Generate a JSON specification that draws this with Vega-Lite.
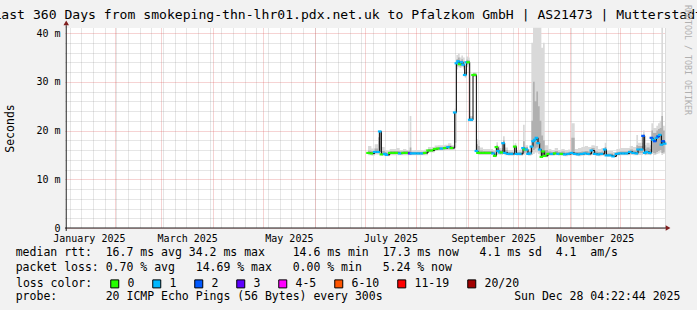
{
  "$schema": "https://vega.github.io/schema/vega-lite/v6.json",
  "width": 600,
  "height": 200,
  "autosize": "none",
  "padding": {"left": 65, "top": 28, "right": 32, "bottom": 82},
  "background": "#f2f2f2",
  "config": {"view": {"stroke": null, "fill": "#ffffff"}, "font": "DejaVu Sans Mono"},
  "datasets": {
    "rtt": [
      {"t": "2025-07-03T00:00", "m": 15.4, "loss": "0", "s0": 14.9, "s1": 16.8, "i0": 15.2, "i1": 15.9},
      {"t": "2025-07-05T00:00", "m": 15.3, "loss": "0", "s0": 14.8, "s1": 16.3, "i0": 15.1, "i1": 15.8},
      {"t": "2025-07-07T00:00", "m": 15.6, "loss": "1", "s0": 15.1, "s1": 17.2, "i0": 15.4, "i1": 16.3},
      {"t": "2025-07-09T00:00", "m": 15.6, "loss": "1", "s0": 15.1, "s1": 19.5, "i0": 15.4, "i1": 18.6},
      {"t": "2025-07-10T00:00", "m": 19.8, "loss": "1", "s0": 15.3, "s1": 20.0, "i0": 15.6, "i1": 19.8},
      {"t": "2025-07-11T00:00", "m": 15.1, "loss": "0", "s0": 14.8, "s1": 16.6, "i0": 15.0, "i1": 15.8},
      {"t": "2025-07-13T00:00", "m": 15.2, "loss": "1", "s0": 14.8, "s1": 16.0, "i0": 15.0, "i1": 15.6},
      {"t": "2025-07-14T00:00", "m": 15.0, "loss": "1", "s0": 14.7, "s1": 15.8, "i0": 14.9, "i1": 15.4},
      {"t": "2025-07-16T00:00", "m": 15.4, "loss": "0", "s0": 14.9, "s1": 16.2, "i0": 15.2, "i1": 15.8},
      {"t": "2025-07-18T00:00", "m": 15.4, "loss": "0", "s0": 14.9, "s1": 16.2, "i0": 15.2, "i1": 15.8},
      {"t": "2025-07-20T00:00", "m": 15.4, "loss": "0", "s0": 14.9, "s1": 16.4, "i0": 15.2, "i1": 15.8},
      {"t": "2025-07-22T00:00", "m": 15.3, "loss": "1", "s0": 14.9, "s1": 16.0, "i0": 15.1, "i1": 15.7},
      {"t": "2025-07-24T00:00", "m": 15.4, "loss": "0", "s0": 14.9, "s1": 16.2, "i0": 15.2, "i1": 15.8},
      {"t": "2025-07-26T00:00", "m": 15.4, "loss": "0", "s0": 14.9, "s1": 16.0, "i0": 15.2, "i1": 15.8},
      {"t": "2025-07-28T00:00", "m": 15.3, "loss": "3", "s0": 14.9, "s1": 23.0, "i0": 15.1, "i1": 16.5},
      {"t": "2025-07-29T00:00", "m": 15.3, "loss": "1", "s0": 14.9, "s1": 15.9, "i0": 15.1, "i1": 15.6},
      {"t": "2025-07-31T00:00", "m": 15.3, "loss": "1", "s0": 14.9, "s1": 16.0, "i0": 15.1, "i1": 15.6},
      {"t": "2025-08-02T00:00", "m": 15.3, "loss": "1", "s0": 14.9, "s1": 16.0, "i0": 15.1, "i1": 15.6},
      {"t": "2025-08-04T00:00", "m": 15.3, "loss": "1", "s0": 14.9, "s1": 15.9, "i0": 15.1, "i1": 15.6},
      {"t": "2025-08-06T00:00", "m": 15.4, "loss": "0", "s0": 14.9, "s1": 16.1, "i0": 15.2, "i1": 15.7},
      {"t": "2025-08-08T00:00", "m": 15.9, "loss": "0", "s0": 15.5, "s1": 16.6, "i0": 15.7, "i1": 16.2},
      {"t": "2025-08-10T00:00", "m": 15.9, "loss": "0", "s0": 15.5, "s1": 16.6, "i0": 15.7, "i1": 16.2},
      {"t": "2025-08-12T00:00", "m": 16.2, "loss": "0", "s0": 15.8, "s1": 16.9, "i0": 16.0, "i1": 16.5},
      {"t": "2025-08-14T00:00", "m": 16.3, "loss": "0", "s0": 15.9, "s1": 17.0, "i0": 16.1, "i1": 16.6},
      {"t": "2025-08-16T00:00", "m": 16.3, "loss": "1", "s0": 15.9, "s1": 17.0, "i0": 16.1, "i1": 16.6},
      {"t": "2025-08-18T00:00", "m": 16.4, "loss": "0", "s0": 16.0, "s1": 17.1, "i0": 16.2, "i1": 16.7},
      {"t": "2025-08-20T00:00", "m": 16.6, "loss": "1", "s0": 16.0, "s1": 17.4, "i0": 16.2, "i1": 16.9},
      {"t": "2025-08-22T00:00", "m": 16.4, "loss": "0", "s0": 16.0, "s1": 17.0, "i0": 16.2, "i1": 16.7},
      {"t": "2025-08-24T00:00", "m": 23.7, "loss": "1", "s0": 16.5, "s1": 24.5, "i0": 17.5, "i1": 24.0},
      {"t": "2025-08-25T00:00", "m": 33.8, "loss": "1", "s0": 32.5, "s1": 35.5, "i0": 33.2, "i1": 34.6},
      {"t": "2025-08-26T00:00", "m": 34.2, "loss": "1", "s0": 33.0, "s1": 35.8, "i0": 33.6, "i1": 35.0},
      {"t": "2025-08-27T00:00", "m": 33.6, "loss": "0", "s0": 32.8, "s1": 35.0, "i0": 33.2, "i1": 34.3},
      {"t": "2025-08-28T00:00", "m": 34.0, "loss": "1", "s0": 33.0, "s1": 35.4, "i0": 33.5, "i1": 34.6},
      {"t": "2025-08-29T00:00", "m": 33.5, "loss": "1", "s0": 32.5, "s1": 35.0, "i0": 33.0, "i1": 34.2},
      {"t": "2025-08-30T00:00", "m": 31.4, "loss": "1", "s0": 30.8, "s1": 32.5, "i0": 31.1, "i1": 32.0},
      {"t": "2025-08-31T00:00", "m": 34.0, "loss": "1", "s0": 33.0, "s1": 35.2, "i0": 33.5, "i1": 34.5},
      {"t": "2025-09-01T00:00", "m": 34.0, "loss": "0", "s0": 33.2, "s1": 35.0, "i0": 33.6, "i1": 34.4},
      {"t": "2025-09-02T00:00", "m": 22.2, "loss": "1", "s0": 21.8, "s1": 23.0, "i0": 22.0, "i1": 22.6},
      {"t": "2025-09-03T00:00", "m": 22.2, "loss": "1", "s0": 21.8, "s1": 23.0, "i0": 22.0, "i1": 22.6},
      {"t": "2025-09-04T00:00", "m": 31.4, "loss": "0", "s0": 31.0, "s1": 32.0, "i0": 31.2, "i1": 31.7},
      {"t": "2025-09-05T00:00", "m": 31.4, "loss": "0", "s0": 31.0, "s1": 32.0, "i0": 31.2, "i1": 31.7},
      {"t": "2025-09-06T00:00", "m": 15.8, "loss": "1", "s0": 15.2, "s1": 18.2, "i0": 15.4, "i1": 17.2},
      {"t": "2025-09-07T00:00", "m": 15.4, "loss": "0", "s0": 15.0, "s1": 18.0, "i0": 15.2, "i1": 16.8},
      {"t": "2025-09-08T00:00", "m": 15.4, "loss": "0", "s0": 15.0, "s1": 16.5, "i0": 15.2, "i1": 15.9},
      {"t": "2025-09-10T00:00", "m": 15.4, "loss": "0", "s0": 15.0, "s1": 16.2, "i0": 15.2, "i1": 15.8},
      {"t": "2025-09-12T00:00", "m": 15.4, "loss": "0", "s0": 15.0, "s1": 16.2, "i0": 15.2, "i1": 15.8},
      {"t": "2025-09-14T00:00", "m": 15.4, "loss": "0", "s0": 15.0, "s1": 16.2, "i0": 15.2, "i1": 15.8},
      {"t": "2025-09-16T00:00", "m": 15.3, "loss": "1", "s0": 14.9, "s1": 16.0, "i0": 15.1, "i1": 15.7},
      {"t": "2025-09-17T00:00", "m": 14.8, "loss": "0", "s0": 14.5, "s1": 15.8, "i0": 14.6, "i1": 15.3},
      {"t": "2025-09-18T00:00", "m": 16.6, "loss": "0", "s0": 15.0, "s1": 17.6, "i0": 15.5, "i1": 17.0},
      {"t": "2025-09-19T00:00", "m": 15.8, "loss": "1", "s0": 15.1, "s1": 16.8, "i0": 15.4, "i1": 16.3},
      {"t": "2025-09-20T00:00", "m": 15.5, "loss": "1", "s0": 15.0, "s1": 16.4, "i0": 15.2, "i1": 16.0},
      {"t": "2025-09-21T00:00", "m": 15.5, "loss": "0", "s0": 15.0, "s1": 16.4, "i0": 15.2, "i1": 16.0},
      {"t": "2025-09-22T00:00", "m": 17.4, "loss": "1", "s0": 15.2, "s1": 18.8, "i0": 15.6, "i1": 18.0},
      {"t": "2025-09-23T00:00", "m": 15.4, "loss": "1", "s0": 14.9, "s1": 16.5, "i0": 15.1, "i1": 16.0},
      {"t": "2025-09-25T00:00", "m": 15.2, "loss": "1", "s0": 14.8, "s1": 16.0, "i0": 15.0, "i1": 15.6},
      {"t": "2025-09-27T00:00", "m": 15.2, "loss": "1", "s0": 14.8, "s1": 16.0, "i0": 15.0, "i1": 15.6},
      {"t": "2025-09-29T00:00", "m": 16.7, "loss": "0", "s0": 15.2, "s1": 17.4, "i0": 15.6, "i1": 17.0},
      {"t": "2025-09-30T00:00", "m": 15.2, "loss": "1", "s0": 14.8, "s1": 16.0, "i0": 15.0, "i1": 15.6},
      {"t": "2025-10-02T00:00", "m": 15.2, "loss": "1", "s0": 14.8, "s1": 16.1, "i0": 15.0, "i1": 15.6},
      {"t": "2025-10-04T00:00", "m": 16.4, "loss": "1", "s0": 15.0, "s1": 21.2, "i0": 15.4, "i1": 17.8},
      {"t": "2025-10-05T00:00", "m": 16.1, "loss": "0", "s0": 15.2, "s1": 17.0, "i0": 15.5, "i1": 16.6},
      {"t": "2025-10-06T00:00", "m": 16.1, "loss": "1", "s0": 15.2, "s1": 17.0, "i0": 15.5, "i1": 16.6},
      {"t": "2025-10-07T00:00", "m": 15.2, "loss": "1", "s0": 14.8, "s1": 16.2, "i0": 15.0, "i1": 15.7},
      {"t": "2025-10-08T00:00", "m": 15.3, "loss": "1", "s0": 14.8, "s1": 16.5, "i0": 15.0, "i1": 15.8},
      {"t": "2025-10-09T00:00", "m": 16.7, "loss": "1", "s0": 15.0, "s1": 38.0, "i0": 15.6, "i1": 22.0},
      {"t": "2025-10-10T00:00", "m": 17.8, "loss": "1", "s0": 15.2, "s1": 41.1, "i0": 16.0, "i1": 30.0},
      {"t": "2025-10-11T00:00", "m": 18.1, "loss": "1", "s0": 15.5, "s1": 41.1, "i0": 16.3, "i1": 26.0},
      {"t": "2025-10-12T00:00", "m": 18.5, "loss": "1", "s0": 15.5, "s1": 41.1, "i0": 16.5, "i1": 28.0},
      {"t": "2025-10-13T00:00", "m": 17.4, "loss": "1", "s0": 15.2, "s1": 41.1, "i0": 16.0, "i1": 25.0},
      {"t": "2025-10-14T00:00", "m": 16.1, "loss": "1", "s0": 15.0, "s1": 41.1, "i0": 15.5, "i1": 22.0},
      {"t": "2025-10-15T00:00", "m": 14.6, "loss": "0", "s0": 14.4, "s1": 37.0, "i0": 14.6, "i1": 19.0},
      {"t": "2025-10-16T00:00", "m": 15.7, "loss": "0", "s0": 14.8, "s1": 38.0, "i0": 15.1, "i1": 18.0},
      {"t": "2025-10-17T00:00", "m": 14.8, "loss": "0", "s0": 14.5, "s1": 17.0, "i0": 14.7, "i1": 16.0},
      {"t": "2025-10-19T00:00", "m": 15.2, "loss": "0", "s0": 14.8, "s1": 16.2, "i0": 15.0, "i1": 15.7},
      {"t": "2025-10-21T00:00", "m": 15.2, "loss": "1", "s0": 14.8, "s1": 16.0, "i0": 15.0, "i1": 15.6},
      {"t": "2025-10-23T00:00", "m": 15.3, "loss": "0", "s0": 14.9, "s1": 16.4, "i0": 15.1, "i1": 15.8},
      {"t": "2025-10-25T00:00", "m": 15.2, "loss": "1", "s0": 14.8, "s1": 16.0, "i0": 15.0, "i1": 15.6},
      {"t": "2025-10-27T00:00", "m": 15.2, "loss": "0", "s0": 14.8, "s1": 16.2, "i0": 15.0, "i1": 15.7},
      {"t": "2025-10-29T00:00", "m": 15.1, "loss": "1", "s0": 14.7, "s1": 16.0, "i0": 14.9, "i1": 15.5},
      {"t": "2025-10-31T00:00", "m": 15.2, "loss": "1", "s0": 14.8, "s1": 16.1, "i0": 15.0, "i1": 15.6},
      {"t": "2025-11-02T00:00", "m": 15.4, "loss": "1", "s0": 14.9, "s1": 21.5, "i0": 15.1, "i1": 18.5},
      {"t": "2025-11-04T00:00", "m": 15.2, "loss": "1", "s0": 14.8, "s1": 16.2, "i0": 15.0, "i1": 15.6},
      {"t": "2025-11-06T00:00", "m": 15.1, "loss": "1", "s0": 14.7, "s1": 16.4, "i0": 14.9, "i1": 15.6},
      {"t": "2025-11-08T00:00", "m": 15.2, "loss": "1", "s0": 14.8, "s1": 16.6, "i0": 15.0, "i1": 15.7},
      {"t": "2025-11-10T00:00", "m": 15.3, "loss": "1", "s0": 14.9, "s1": 16.8, "i0": 15.1, "i1": 15.8},
      {"t": "2025-11-12T00:00", "m": 15.2, "loss": "1", "s0": 14.8, "s1": 16.6, "i0": 15.0, "i1": 15.7},
      {"t": "2025-11-14T00:00", "m": 15.9, "loss": "1", "s0": 15.0, "s1": 17.0, "i0": 15.3, "i1": 16.4},
      {"t": "2025-11-16T00:00", "m": 15.2, "loss": "1", "s0": 14.8, "s1": 16.8, "i0": 15.0, "i1": 15.7},
      {"t": "2025-11-18T00:00", "m": 15.1, "loss": "1", "s0": 14.7, "s1": 16.2, "i0": 14.9, "i1": 15.6},
      {"t": "2025-11-20T00:00", "m": 15.2, "loss": "1", "s0": 14.8, "s1": 16.4, "i0": 15.0, "i1": 15.7},
      {"t": "2025-11-22T00:00", "m": 16.1, "loss": "1", "s0": 15.0, "s1": 17.5, "i0": 15.4, "i1": 16.6},
      {"t": "2025-11-23T00:00", "m": 14.9, "loss": "1", "s0": 14.6, "s1": 15.8, "i0": 14.8, "i1": 15.3},
      {"t": "2025-11-25T00:00", "m": 14.9, "loss": "1", "s0": 14.6, "s1": 15.8, "i0": 14.8, "i1": 15.3},
      {"t": "2025-11-27T00:00", "m": 14.7, "loss": "1", "s0": 14.5, "s1": 15.6, "i0": 14.6, "i1": 15.1},
      {"t": "2025-11-29T00:00", "m": 15.2, "loss": "1", "s0": 14.8, "s1": 16.2, "i0": 15.0, "i1": 15.6},
      {"t": "2025-12-01T00:00", "m": 15.3, "loss": "1", "s0": 14.9, "s1": 16.4, "i0": 15.1, "i1": 15.7},
      {"t": "2025-12-03T00:00", "m": 15.3, "loss": "1", "s0": 14.9, "s1": 16.4, "i0": 15.1, "i1": 15.7},
      {"t": "2025-12-05T00:00", "m": 15.3, "loss": "1", "s0": 14.9, "s1": 16.4, "i0": 15.1, "i1": 15.7},
      {"t": "2025-12-07T00:00", "m": 15.6, "loss": "1", "s0": 15.0, "s1": 16.8, "i0": 15.3, "i1": 16.1},
      {"t": "2025-12-09T00:00", "m": 15.4, "loss": "1", "s0": 14.9, "s1": 16.6, "i0": 15.2, "i1": 15.9},
      {"t": "2025-12-11T00:00", "m": 15.3, "loss": "1", "s0": 14.9, "s1": 19.1, "i0": 15.1, "i1": 17.0},
      {"t": "2025-12-12T00:00", "m": 16.1, "loss": "1", "s0": 15.0, "s1": 17.5, "i0": 15.4, "i1": 16.8},
      {"t": "2025-12-14T00:00", "m": 16.1, "loss": "1", "s0": 15.0, "s1": 17.5, "i0": 15.4, "i1": 16.8},
      {"t": "2025-12-15T00:00", "m": 18.9, "loss": "2", "s0": 15.2, "s1": 20.0, "i0": 15.8, "i1": 19.2},
      {"t": "2025-12-16T00:00", "m": 15.4, "loss": "1", "s0": 14.9, "s1": 17.0, "i0": 15.1, "i1": 16.2},
      {"t": "2025-12-17T00:00", "m": 15.6, "loss": "1", "s0": 15.0, "s1": 17.5, "i0": 15.2, "i1": 16.5},
      {"t": "2025-12-19T00:00", "m": 15.4, "loss": "1", "s0": 14.9, "s1": 17.0, "i0": 15.1, "i1": 16.2},
      {"t": "2025-12-20T00:00", "m": 18.5, "loss": "2", "s0": 15.2, "s1": 21.5, "i0": 15.6, "i1": 20.0},
      {"t": "2025-12-21T00:00", "m": 18.1, "loss": "1", "s0": 15.0, "s1": 20.5, "i0": 15.4, "i1": 19.5},
      {"t": "2025-12-22T00:00", "m": 17.8, "loss": "2", "s0": 15.0, "s1": 20.5, "i0": 15.3, "i1": 19.5},
      {"t": "2025-12-23T00:00", "m": 18.5, "loss": "1", "s0": 15.2, "s1": 21.0, "i0": 15.6, "i1": 20.0},
      {"t": "2025-12-24T00:00", "m": 18.8, "loss": "2", "s0": 15.3, "s1": 21.5, "i0": 15.8, "i1": 20.3},
      {"t": "2025-12-25T00:00", "m": 19.1, "loss": "1", "s0": 15.5, "s1": 22.0, "i0": 16.0, "i1": 20.5},
      {"t": "2025-12-26T00:00", "m": 17.1, "loss": "1", "s0": 15.0, "s1": 41.1, "i0": 15.4, "i1": 23.0},
      {"t": "2025-12-27T00:00", "m": 17.8, "loss": "2", "s0": 15.2, "s1": 21.0, "i0": 15.5, "i1": 20.0},
      {"t": "2025-12-28T00:00", "m": 17.3, "loss": "1", "s0": 15.0, "s1": 20.5, "i0": 15.4, "i1": 19.0}
    ],
    "notes": [
      {"line": 1, "text": "median rtt:\u00a0\u00a016.7 ms avg\u00a034.2 ms max\u00a0\u00a0\u00a0\u00a014.6 ms min\u00a0\u00a017.3 ms now\u00a0\u00a0\u00a04.1 ms sd\u00a0\u00a04.1\u00a0\u00a0am/s"},
      {"line": 2, "text": "packet loss:\u00a00.70 % avg\u00a0\u00a0\u00a014.69 % max\u00a0\u00a0\u00a00.00 % min\u00a0\u00a0\u00a05.24 % now"},
      {"line": 4, "text": "probe:\u00a0\u00a0\u00a0\u00a0\u00a0\u00a0\u00a020 ICMP Echo Pings (56 Bytes) every 300s\u00a0\u00a0\u00a0\u00a0\u00a0\u00a0\u00a0\u00a0\u00a0\u00a0\u00a0\u00a0\u00a0\u00a0\u00a0\u00a0\u00a0\u00a0\u00a0Sun Dec 28 04:22:44 2025"}
    ]
  },
  "layer": [
    {
      "resolve": {"axis": {"x": "independent", "y": "independent"}},
      "layer": [
        {
          "data": {"name": "rtt"},
          "mark": {"type": "area", "interpolate": "step-after", "color": "#d9d9d9"},
          "encoding": {
            "x": {"field": "t", "type": "temporal",
              "scale": {"domain": [{"year": 2025, "month": 1, "date": 2, "hours": 4, "minutes": 22, "seconds": 44}, {"year": 2025, "month": 12, "date": 28, "hours": 4, "minutes": 22, "seconds": 44}]},
              "axis": {"orient": "bottom", "grid": true, "gridColor": "#8f8f8f", "gridOpacity": 0.45, "gridDash": [1, 1], "tickCount": {"interval": "week", "step": 1}, "labels": false, "ticks": false, "domain": false, "title": null}},
            "y": {"field": "s0", "type": "quantitative",
              "scale": {"domain": [0, 41.03], "nice": false, "zero": false},
              "axis": {"orient": "left", "grid": true, "gridColor": "#8f8f8f", "gridOpacity": 0.45, "gridDash": [1, 1], "values": [2, 4, 6, 8, 12, 14, 16, 18, 22, 24, 26, 28, 32, 34, 36, 38], "labels": false, "ticks": false, "domain": false, "title": null}},
            "y2": {"field": "s1"}
          }
        },
        {
          "data": {"name": "rtt"},
          "mark": {"type": "area", "interpolate": "step-after", "color": "#b0b0b0"},
          "encoding": {
            "x": {"field": "t", "type": "temporal",
              "axis": {"orient": "bottom", "grid": true, "gridColor": "#de4f4f", "gridOpacity": 0.5, "gridDash": [1, 1], "tickCount": {"interval": "month", "step": 1}, "labels": false, "ticks": false, "domain": false, "title": null}},
            "y": {"field": "i0", "type": "quantitative",
              "axis": {"orient": "left", "grid": true, "gridColor": "#de4f4f", "gridOpacity": 0.5, "gridDash": [1, 1], "values": [0, 10, 20, 30, 40], "ticks": false, "domain": false,
                "labelExpr": "datum.value == 0 ? '0' : datum.value + ' m'", "labelFont": "DejaVu Sans Mono", "labelFontSize": 10, "labelColor": "#000000", "labelPadding": 5,
                "title": "Seconds", "titleFont": "DejaVu Sans Mono", "titleFontSize": 11.5, "titleFontWeight": "normal", "titleColor": "#000000", "titlePadding": 20}},
            "y2": {"field": "i1"}
          }
        },
        {
          "data": {"name": "rtt"},
          "mark": {"type": "line", "interpolate": "step-after", "color": "#000000", "strokeWidth": 1},
          "encoding": {
            "x": {"field": "t", "type": "temporal",
              "axis": {"orient": "bottom", "grid": false, "ticks": false, "domain": false, "title": null, "format": "%B %Y",
                "values": [{"year": 2025, "month": 1, "date": 16, "hours": 12}, {"year": 2025, "month": 3, "date": 16, "hours": 12}, {"year": 2025, "month": 5, "date": 16, "hours": 12}, {"year": 2025, "month": 7, "date": 16, "hours": 12}, {"year": 2025, "month": 9, "date": 16}, {"year": 2025, "month": 11, "date": 16}],
                "labelFont": "DejaVu Sans Mono", "labelFontSize": 10, "labelColor": "#000000", "labelPadding": 5, "labelFlush": false, "labelOverlap": false, "labelBound": false}},
            "y": {"field": "m", "type": "quantitative", "axis": null}
          }
        },
        {
          "data": {"name": "rtt"},
          "mark": {"type": "tick", "orient": "horizontal", "size": 3.6, "thickness": 2.2, "opacity": 1},
          "encoding": {
            "x": {"field": "t", "type": "temporal", "axis": null},
            "y": {"field": "m", "type": "quantitative", "axis": null},
            "color": {"field": "loss", "type": "nominal",
              "scale": {"domain": ["0", "1", "2", "3", "4-5", "6-10", "11-19", "20/20"], "range": ["#26ff00", "#00b8ff", "#0059ff", "#5e00ff", "#ff00ff", "#ff5500", "#ff0000", "#a10000"]},
              "legend": {"orient": "none", "legendX": -49, "legendY": 250, "direction": "horizontal", "columns": 8,
                "title": "loss color:", "titleOrient": "left", "titleFont": "DejaVu Sans Mono", "titleFontSize": 11.5, "titleFontWeight": "normal", "titleColor": "#000000", "titlePadding": 16,
                "labelFont": "DejaVu Sans Mono", "labelFontSize": 11.5, "labelColor": "#000000", "labelOffset": 7, "columnPadding": 15,
                "symbolType": "square", "symbolSize": 64, "symbolStrokeColor": "#000000", "symbolStrokeWidth": 1, "symbolOpacity": 1}}
          }
        },
        {
          "data": {"values": [{}]},
          "mark": {"type": "rule", "color": "#1f1f1f", "strokeWidth": 1},
          "encoding": {
            "x": {"datum": {"year": 2025, "month": 1, "date": 2, "hours": 4}, "type": "temporal", "axis": null},
            "x2": {"datum": {"year": 2025, "month": 12, "date": 29, "hours": 18}},
            "y": {"datum": 0, "type": "quantitative", "axis": null}
          }
        },
        {
          "data": {"values": [{}]},
          "mark": {"type": "rule", "color": "#1f1f1f", "strokeWidth": 1},
          "encoding": {
            "x": {"datum": {"year": 2025, "month": 1, "date": 2, "hours": 22}, "type": "temporal", "axis": null},
            "y": {"datum": -0.6, "type": "quantitative", "axis": null},
            "y2": {"datum": 41.6}
          }
        },
        {
          "data": {"values": [{}]},
          "mark": {"type": "point", "shape": "triangle-right", "filled": true, "color": "#801f1f", "size": 30, "opacity": 1},
          "encoding": {
            "x": {"datum": {"year": 2025, "month": 12, "date": 30}, "type": "temporal", "axis": null},
            "y": {"datum": 0, "type": "quantitative", "axis": null}
          }
        },
        {
          "data": {"values": [{}]},
          "mark": {"type": "point", "shape": "triangle-up", "filled": true, "color": "#801f1f", "size": 30, "opacity": 1},
          "encoding": {
            "x": {"datum": {"year": 2025, "month": 1, "date": 2, "hours": 22}, "type": "temporal", "axis": null},
            "y": {"datum": 42.1, "type": "quantitative", "axis": null}
          }
        }
      ]
    },
    {
      "layer": [
        {
          "data": {"name": "notes"},
          "mark": {"type": "text", "align": "left", "baseline": "middle", "font": "DejaVu Sans Mono", "fontSize": 11.5, "color": "#000000"},
          "encoding": {
            "x": {"datum": 0, "type": "quantitative", "scale": {"domain": [7.094, 93.42], "nice": false, "zero": false}, "axis": null},
            "y": {"field": "line", "type": "quantitative", "scale": {"domain": [-14.2, -0.69], "reverse": true, "nice": false, "zero": false}, "axis": null},
            "text": {"field": "text"}
          }
        },
        {
          "data": {"values": [{}]},
          "mark": {"type": "text", "text": "Last 360 Days from smokeping-thn-lhr01.pdx.net.uk to Pfalzkom GmbH | AS21473 | Mutterstadt", "align": "center", "baseline": "middle", "font": "DejaVu Sans Mono", "fontSize": 13.1, "color": "#000000"},
          "encoding": {
            "x": {"datum": 47.84, "type": "quantitative", "axis": null},
            "y": {"datum": -15.1, "type": "quantitative", "axis": null}
          }
        },
        {
          "data": {"values": [{}]},
          "mark": {"type": "text", "text": "RRDTOOL / TOBI OETIKER", "align": "left", "baseline": "middle", "angle": 90, "font": "DejaVu Sans Mono", "fontSize": 8.3, "color": "#b0b0b0"},
          "encoding": {
            "x": {"datum": 96.55, "type": "quantitative", "axis": null},
            "y": {"datum": -15.75, "type": "quantitative", "axis": null}
          }
        }
      ]
    }
  ],
  "resolve": {"scale": {"x": "independent", "y": "independent"}}
}
